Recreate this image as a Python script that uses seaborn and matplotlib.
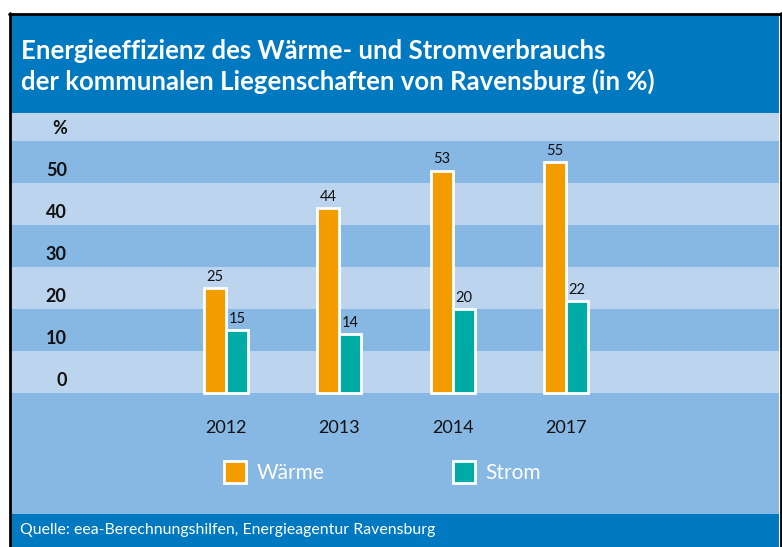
import numpy as np
import pandas as pd
import matplotlib.pyplot as plt
import seaborn as sns
from matplotlib.patches import Rectangle, Patch
from matplotlib.lines import Line2D

# Daten
jahre = ['2012', '2013', '2014', '2017']
waerme = [25, 44, 53, 55]
strom = [15, 14, 20, 22]
serien = ['Wärme', 'Strom']
y_labels = ['0', '10', '20', '30', '40', '50', '%']
y_label_pos = [0, 10, 20, 30, 40, 50, 60]

df = pd.DataFrame({
    'Jahr': jahre * 2,
    'Wert': waerme + strom,
    'Art': [serien[0]] * len(jahre) + [serien[1]] * len(jahre),
})

blau = '#0079C1'
hell = '#BCD4EE'
dunkel = '#87B7E3'
orange = '#F39C00'
tuerkis = '#00ABA6'

sns.set_theme(style='white')
plt.rcParams['font.family'] = ['Lato', 'DejaVu Sans']

W, H = 782, 547
fig = plt.figure(figsize=(W / 100, H / 100), dpi=100)
fig.patch.set_facecolor('white')

def fx(px):
    return px / W

def fy(py):
    return 1 - py / H

# Plotbereich
ax = fig.add_axes([fx(11), fy(514), fx(779) - fx(11), fy(113) - fy(514)])
ymin, ymax = -28.8, 66.7
ax.set_ylim(ymin, ymax)

# Streifen
ax.axhspan(ymin, 0, color=dunkel, zorder=0, lw=0)
for i, v in enumerate(range(0, 70, 10)):
    top = min(v + 10, ymax)
    ax.axhspan(v, top, color=hell if i % 2 == 0 else dunkel, zorder=0, lw=0)

sns.barplot(data=df, x='Jahr', y='Wert', hue='Art', palette=[orange, tuerkis],
            width=0.39, edgecolor='white', linewidth=2, saturation=1,
            legend=False, ax=ax, zorder=3)
ax.set_xlim(-1.898, 4.881)
ax.set_ylim(ymin, ymax)

for c in ax.containers:
    ax.bar_label(c, fmt='%d', padding=3, fontsize=10.5, color='#111111')

# y-Beschriftung
trans = ax.get_yaxis_transform()
for lab, pos in zip(y_labels, y_label_pos):
    ax.text(0.0725, pos + 3.1, lab, transform=trans, ha='right', va='center',
            fontsize=13, fontweight='bold', color='#111111')

# Jahre
for i, j in enumerate(jahre):
    ax.text(i, -8.2, j, ha='center', va='center', fontsize=13, color='#111111')

ax.set_xticks([])
ax.set_yticks([])
ax.set_xlabel('')
ax.set_ylabel('')
for s in ax.spines.values():
    s.set_visible(False)

# Legende
handles = [Patch(facecolor=orange, edgecolor='white', linewidth=2),
           Patch(facecolor=tuerkis, edgecolor='white', linewidth=2)]
fig.legend(handles, serien, loc='center left', bbox_to_anchor=(fx(224), fy(472)),
           ncol=2, frameon=False, fontsize=15, labelcolor='white',
           handlelength=1.05, handleheight=1.2, handletextpad=0.5,
           columnspacing=6.2, borderpad=0, borderaxespad=0)

# Titelband und Fusszeile
fig.add_artist(Rectangle((fx(11), fy(113)), fx(779) - fx(11), fy(15) - fy(113),
                         transform=fig.transFigure, color=blau, lw=0, zorder=0))
fig.add_artist(Rectangle((fx(11), 0), fx(779) - fx(11), fy(514),
                         transform=fig.transFigure, color=blau, lw=0, zorder=0))
fig.text(fx(21), fy(51), 'Energieeffizienz des Wärme- und Stromverbrauchs',
         ha='left', va='center', color='white', fontsize=18.5, fontweight='bold')
fig.text(fx(21), fy(81), 'der kommunalen Liegenschaften von Ravensburg (in %)',
         ha='left', va='center', color='white', fontsize=18.5, fontweight='bold')
fig.text(fx(20), fy(530), 'Quelle: eea-Berechnungshilfen, Energieagentur Ravensburg',
         ha='left', va='center', color='white', fontsize=11.4)

# Rahmen
fig.add_artist(Line2D([fx(9.5), fx(9.5)], [0, fy(13)], color='black', lw=2, transform=fig.transFigure))
fig.add_artist(Line2D([fx(9), fx(781)], [fy(14), fy(14)], color='black', lw=2, transform=fig.transFigure))
fig.add_artist(Line2D([fx(780.5), fx(780.5)], [0, fy(13)], color='black', lw=2, transform=fig.transFigure))

fig.savefig('out.png', dpi=100)
